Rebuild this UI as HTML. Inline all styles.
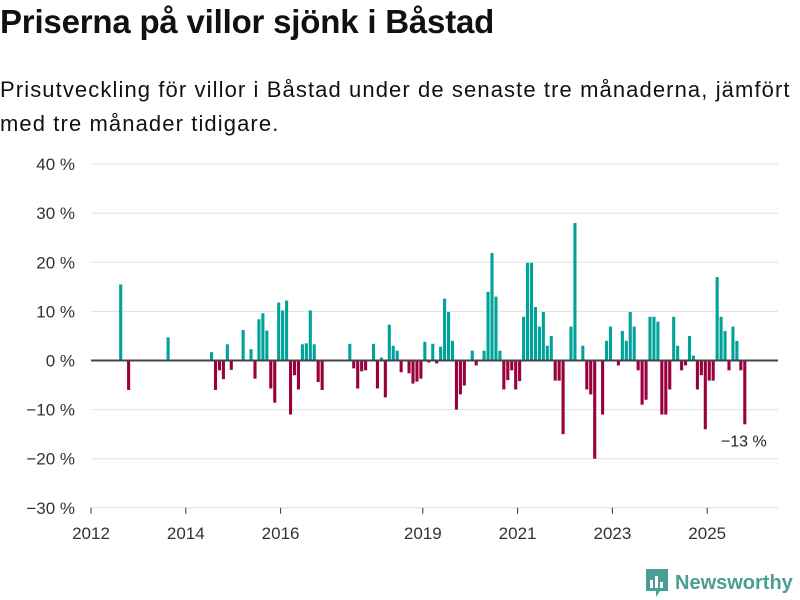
<!DOCTYPE html>
<html><head><meta charset="utf-8">
<style>
body{margin:0;background:#fff;width:800px;height:600px;overflow:hidden;font-family:"Liberation Sans",sans-serif;color:#111}
#title{position:absolute;left:0;top:3px;font-size:33px;font-weight:bold;letter-spacing:-0.2px}
#sub{position:absolute;left:0;top:73px;font-size:22px;line-height:34px;width:800px;letter-spacing:1.1px;white-space:nowrap}
svg{position:absolute;left:0;top:0}
</style></head><body>
<div id="title">Priserna på villor sjönk i Båstad</div>
<div id="sub">Prisutveckling för villor i Båstad under de senaste tre månaderna, jämfört<br>med tre månader tidigare.</div>
<svg id="chart" width="800" height="600"></svg>
<script>
const yTicks=[40,30,20,10,0,-10,-20,-30];
const yTickLabels=["40 %","30 %","20 %","10 %","0 %","−10 %","−20 %","−30 %"];
const xTickYears=[2012,2014,2016,2019,2021,2023,2025];
const monthIndex=[7,9,19,30,31,32,33,34,35,38,40,41,42,43,44,45,46,47,48,49,50,51,52,53,54,55,56,57,58,
65,66,67,68,69,71,72,73,74,75,76,77,78,80,81,82,83,84,85,86,87,88,89,90,91,92,93,94,96,97,99,100,101,102,103,104,105,106,107,108,109,110,111,112,113,114,115,116,117,118,119,
121,122,124,125,126,127,129,130,131,133,134,135,136,137,138,139,140,141,142,143,144,145,146,147,148,149,150,151,152,153,154,155,156,157,158,159,160,161,162,163,164,165];
const values=[15.5,-6,4.7,1.7,-6,-2,-3.8,3.3,-1.9,6.2,2.3,-3.7,8.4,9.6,6.1,-5.7,-8.6,11.8,10.2,12.2,-11,-3,-5.9,3.3,3.5,10.2,3.3,-4.4,-6,
3.4,-1.6,-5.7,-2.2,-2,3.4,-5.7,0.6,-7.5,7.3,3,2,-2.4,-2.6,-4.7,-4.3,-3.7,3.8,-0.4,3.4,-0.6,2.8,12.6,9.9,4,-10,-6.9,-5.1,2,-1,2,14,21.9,13,2,-5.9,-4,-2,-5.9,-4.2,8.9,19.9,19.9,10.9,6.9,9.9,3,5,-4.1,-4.1,-15,
6.9,28,3,-5.9,-6.9,-20,-11,4,6.9,-1,6,4,9.9,6.9,-2,-9,-8,8.9,8.9,7.9,-11,-11,-5.9,8.9,3,-2,-1,5,1,-5.9,-3,-14,-4.1,-4.1,17,8.9,6,-2,6.9,4,-2,-13];
const lastLabel="−13 %";
const NS="http://www.w3.org/2000/svg";
const svg=document.getElementById('chart');
const X0=91,MW=3.95,Y0=360.5,PX=4.91;
function xm(m){return X0+m*MW;}
function yv(v){return Y0-v*PX;}
function mk(t,a){const e=document.createElementNS(NS,t);for(const k in a)e.setAttribute(k,a[k]);svg.appendChild(e);return e;}
yTicks.forEach((t,i)=>{
 if(t!==0){const l=mk('line',{x1:91,x2:778,y1:yv(t),y2:yv(t),stroke:'#e0e0e0','stroke-width':1});
 
 }
 const tx=mk('text',{x:75,y:yv(t)+6,'text-anchor':'end','font-size':17,fill:'#333','font-family':'Liberation Sans, sans-serif'});
 tx.textContent=yTickLabels[i];
 
 
});
xTickYears.forEach(yr=>{
 const x=xm((yr-2012)*12);
 const tk=mk('line',{x1:x,x2:x,y1:yv(-30),y2:yv(-30)+6,stroke:'#333','stroke-width':1});
 
 
 const tx=mk('text',{x:x,y:539,'text-anchor':'middle','font-size':17,fill:'#333','font-family':'Liberation Sans, sans-serif'});
 tx.textContent=yr;
 
 
});
monthIndex.forEach((m,i)=>{
 const v=values[i];const x=xm(m)+0.5;
 const r=mk('rect',{x:x,width:3.1,y:Math.min(yv(v),Y0),height:Math.abs(yv(v)-Y0),fill:v>=0?'#00a39a':'#99003c'});
 
 
});
const z=mk('line',{x1:91,x2:778,y1:Y0,y2:Y0,stroke:'#444','stroke-width':2});


const lm=monthIndex[monthIndex.length-1];
const lb=mk('text',{x:xm(lm)+24,y:yv(values[values.length-1])+22,'text-anchor':'end','font-size':16,fill:'#222','font-family':'Liberation Sans, sans-serif'});
lb.textContent=lastLabel;


</script>
<div style="position:absolute;left:645px;top:568px;display:flex;align-items:center;gap:6px">
<svg width="24" height="30" style="position:static" viewBox="0 0 24 30"><path d="M1 1h22v22h-8l-4 6v-6H1z" fill="#4a9e93"/><rect x="5" y="12" width="3" height="8" fill="#fff"/><rect x="10" y="8" width="3" height="12" fill="#fff"/><rect x="15" y="14" width="3" height="6" fill="#fff"/></svg>
<span style="color:#4a9e93;font-weight:bold;font-size:20px">Newsworthy</span></div>
</body></html>
